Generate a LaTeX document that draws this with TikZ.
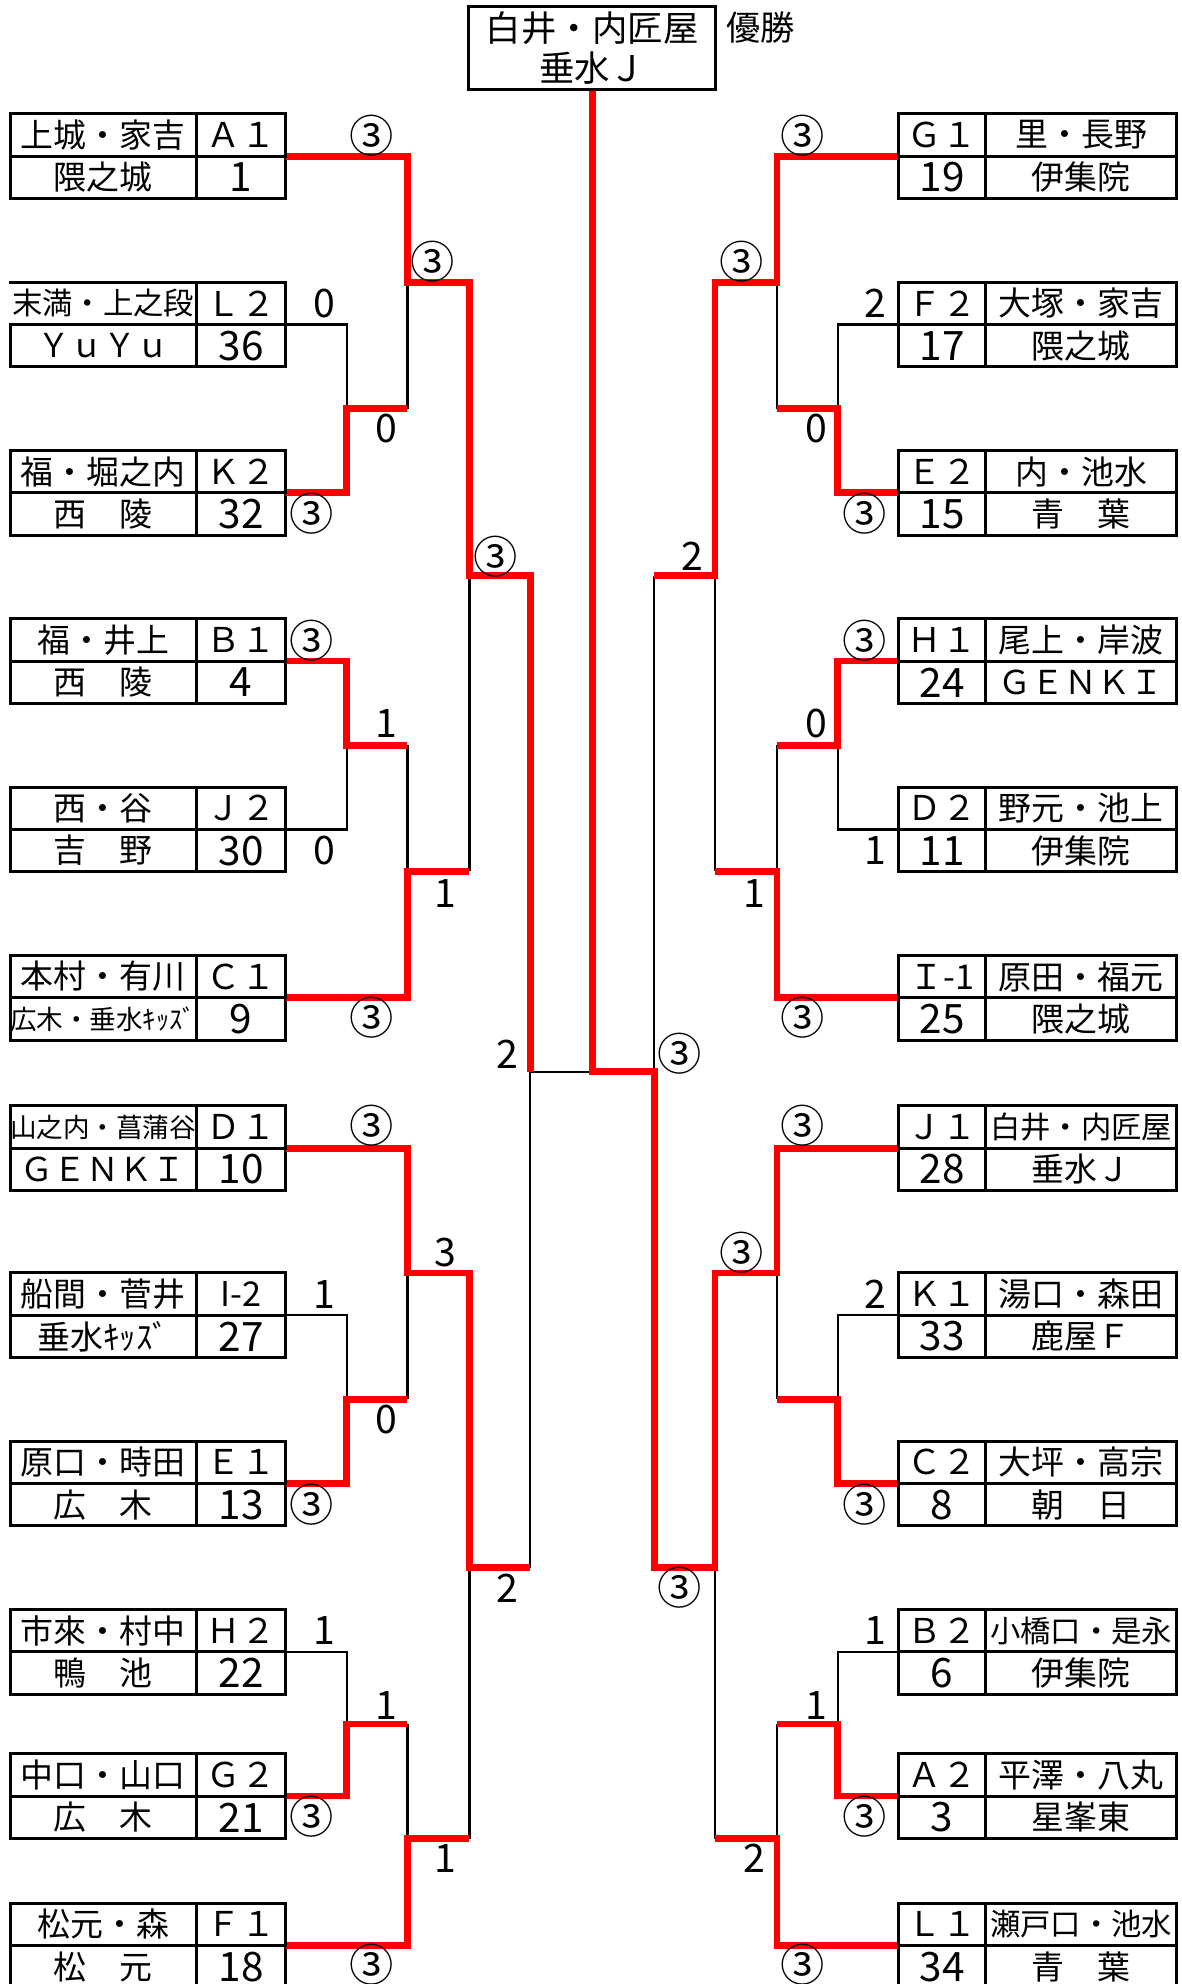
\documentclass[tikz,border=0pt]{standalone}
\usepackage{fontspec}
\setmainfont{Noto Sans CJK JP}
\newcommand\fsz[1]{\fontsize{#1pt}{#1pt}\selectfont}
\definecolor{winred}{RGB}{255,0,0}
\newcommand\teamL[6]{%
  \node[nameL] (#1n) at (81.5,#2+16.75) {#3};
  \node[codeL] (#1) at (190.5,#2+16.75) {#4};
  \node[nameL] (#1m) at (81.5,#2+50.25) {#5};
  \node[numL] (#1k) at (190.5,#2+50.25) {#6};}
\newcommand\teamR[6]{%
  \node[codeR] (#1) at (744.5,#2+16.75) {#3};
  \node[nameR] (#1n) at (854.5,#2+16.75) {#4};
  \node[numR] (#1k) at (744.5,#2+50.25) {#5};
  \node[nameR] (#1m) at (854.5,#2+50.25) {#6};}
\begin{document}
\begin{tikzpicture}[x=1pt,y=-1pt,
  cellbox/.style={draw, line width=2.4pt, inner sep=0pt, outer sep=0pt, minimum height=33.5pt, font=\fsz{26}},
  nameL/.style={cellbox, minimum width=147pt},
  codeL/.style={cellbox, minimum width=71pt, font=\fsz{27}},
  nameR/.style={cellbox, minimum width=151pt},
  codeR/.style={cellbox, minimum width=69pt, font=\fsz{27}},
  numL/.style={codeL, font=\fsz{32}},
  numR/.style={codeR, font=\fsz{32}},
  win/.style={draw=winred, line width=5.3pt, line join=miter},
  lose/.style={draw=black, line width=1.8pt},
  circ/.style={inner sep=0pt, font=\fsz{35}},
  dig/.style={inner sep=0pt, font=\fsz{31}},
]
\useasboundingbox (0,0) rectangle (934,1568);
\clip (0,0) rectangle (934,1568);
\fill[white] (0,0) rectangle (934,1568);

% junction coordinates
\coordinate (LA) at (274,323);
\coordinate (LB) at (322,223);
\coordinate (LC) at (274,589);
\coordinate (LD) at (322,688.5);
\coordinate (LE) at (371,455);
\coordinate (LF) at (274,1106);
\coordinate (LG) at (322,1006);
\coordinate (LH) at (274,1362.5);
\coordinate (LI) at (322,1453);
\coordinate (LJ) at (371,1239);
\coordinate (LK) at (419,847);
\coordinate (C)  at (468,847);
\coordinate (RA) at (662,323);
\coordinate (RB) at (614,223);
\coordinate (RC) at (662,589);
\coordinate (RD) at (614,688.5);
\coordinate (RE) at (565,455);
\coordinate (RF) at (662,1106);
\coordinate (RG) at (614,1006);
\coordinate (RH) at (662,1362.5);
\coordinate (RI) at (614,1453);
\coordinate (RJ) at (565,1239);
\coordinate (RK) at (517,847);

% team boxes
\teamL{A1}{90}{上城・家吉}{Ａ１}{隈之城}{1}
\teamL{L2}{223}{{\fsz{24}末満・上之段}}{Ｌ２}{ＹｕＹｕ}{36}
\teamL{K2}{356}{福・堀之内}{Ｋ２}{西　陵}{32}
\teamL{B1}{489}{福・井上}{Ｂ１}{西　陵}{4}
\teamL{J2}{622}{西・谷}{Ｊ２}{吉　野}{30}
\teamL{C1}{755}{本村・有川}{Ｃ１}{{\fsz{21}広木・垂水ｷｯｽﾞ}}{9}
\teamL{D1}{874}{{\fsz{21}山之内・菖蒲谷}}{Ｄ１}{ＧＥＮＫＩ}{10}
\teamL{I2}{1006}{船間・菅井}{I-2}{垂水ｷｯｽﾞ}{27}
\teamL{E1}{1139}{原口・時田}{Ｅ１}{広　木}{13}
\teamL{H2}{1272}{市來・村中}{Ｈ２}{鴨　池}{22}
\teamL{G2}{1386}{中口・山口}{Ｇ２}{広　木}{21}
\teamL{F1}{1504}{松元・森}{Ｆ１}{松　元}{18}

\teamR{G1}{90}{Ｇ１}{里・長野}{19}{伊集院}
\teamR{F2}{223}{Ｆ２}{大塚・家吉}{17}{隈之城}
\teamR{E2}{356}{Ｅ２}{内・池水}{15}{青　葉}
\teamR{H1}{489}{Ｈ１}{尾上・岸波}{24}{ＧＥＮＫＩ}
\teamR{D2}{622}{Ｄ２}{野元・池上}{11}{伊集院}
\teamR{I1}{755}{Ｉ-1}{原田・福元}{25}{隈之城}
\teamR{J1}{874}{Ｊ１}{{\fsz{24}白井・内匠屋}}{28}{垂水Ｊ}
\teamR{K1}{1006}{Ｋ１}{湯口・森田}{33}{鹿屋Ｆ}
\teamR{C2}{1139}{Ｃ２}{大坪・高宗}{8}{朝　日}
\teamR{B2}{1272}{Ｂ２}{{\fsz{24}小橋口・是永}}{6}{伊集院}
\teamR{A2}{1386}{Ａ２}{平澤・八丸}{3}{星峯東}
\teamR{L1}{1504}{Ｌ１}{{\fsz{24}瀬戸口・池水}}{34}{青　葉}

% champion
\node[draw, line width=2.4pt, minimum width=195pt, minimum height=65.6pt, inner sep=0pt, outer sep=0pt, align=center, font={\fontsize{28pt}{32pt}\selectfont}] (champ) at (468,37.8) {白井・内匠屋\\垂水Ｊ};
\node[inner sep=0pt, font=\fsz{27}] (yusho) at (601,22) {優勝};

% losing (black) lines
\draw[lose] (L2.south east) -| (LA);
\draw[lose] (LB) -- (LB |- LA);
\draw[lose] (LE) -- (LE |- LD);
\draw[lose] (J2.south east) -| (LC);
\draw[lose] (LD) -- (LD |- LC);
\draw[lose] (LK) -- (LK |- LJ);
\draw[lose] (LK) -- (C);
\draw[lose] (LG) -- (LG |- LF);
\draw[lose] (I2.south east) -| (LF);
\draw[lose] (LJ) -- (LJ |- LI);
\draw[lose] (H2.south east) -| (LH);
\draw[lose] (LI) -- (LI |- LH);
\draw[lose] (F2.south west) -| (RA);
\draw[lose] (RB) -- (RB |- RA);
\draw[lose] (RE) -- (RE |- RD);
\draw[lose] (D2.south west) -| (RC);
\draw[lose] (RD) -- (RD |- RC);
\draw[lose] (RK) -- (RK |- RE);
\draw[lose] (RG) -- (RG |- RF);
\draw[lose] (K1.south west) -| (RF);
\draw[lose] (RJ) -- (RJ |- RI);
\draw[lose] (B2.south west) -| (RH);
\draw[lose] (RI) -- (RI |- RH);

% winning (red) lines
\draw[win] (A1.south east) -| (LB) -| (LE) -| (LK);
\draw[win] (K2.south east) -| (LA) -- (LA -| LB);
\draw[win] (B1.south east) -| (LC) -- (LC -| LD);
\draw[win] (C1.south east) -| (LD) -- (LD -| LE);
\draw[win] (D1.south east) -| (LG) -| (LJ) -- (LJ -| LK);
\draw[win] (E1.south east) -| (LF) -- (LF -| LG);
\draw[win] (G2.south east) -| (LH) -- (LH -| LI);
\draw[win] (F1.south east) -| (LI) -- (LI -| LJ);
\draw[win] (champ.south) -- (C) -- (RK) |- (RJ) |- (RG) |- (J1.south west);
\draw[win] (G1.south west) -| (RB) -| (RE) -- (RE -| RK);
\draw[win] (E2.south west) -| (RA) -- (RA -| RB);
\draw[win] (H1.south west) -| (RC) -- (RC -| RD);
\draw[win] (I1.south west) -| (RD) -- (RD -| RE);
\draw[win] (C2.south west) -| (RF) -- (RF -| RG);
\draw[win] (A2.south west) -| (RH) -- (RH -| RI);
\draw[win] (L1.south west) -| (RI) -- (RI -| RJ);

% redraw box borders on top
\foreach \t in {A1,L2,K2,B1,J2,C1,D1,I2,E1,H2,G2,F1,G1,F2,E2,H1,D2,I1,J1,K1,C2,B2,A2,L1}{
  \draw[line width=2.4pt] (\t.north west) rectangle (\t.south east);
}
\draw[line width=2.4pt] (champ.north west) rectangle (champ.south east);
\draw[white, line width=3pt, shorten <=1.4pt, shorten >=1.4pt] (L2n.north west) -- (L2n.south west);

% scores left
\node[circ] (s1) at (294,107) {③};
\node[circ] (s2) at (342,207) {③};
\node[dig] (s3) at (256,240) {0};
\node[dig] (s4) at (305,339) {0};
\node[circ] (s5) at (246,406) {③};
\node[circ] (s6) at (392,440) {③};
\node[circ] (s7) at (246,506) {③};
\node[dig] (s8) at (305,572) {1};
\node[dig] (s9) at (256,672) {0};
\node[dig] (s10) at (352,706) {1};
\node[circ] (s11) at (294,804) {③};
\node[dig] (s12) at (401,833) {2};
\node[circ] (s13) at (294,890) {③};
\node[dig] (s14) at (352,990) {3};
\node[dig] (s15) at (256,1023) {1};
\node[dig] (s16) at (305,1122) {0};
\node[circ] (s17) at (246,1189) {③};
\node[dig] (s18) at (401,1255) {2};
\node[dig] (s19) at (256,1289) {1};
\node[dig] (s20) at (305,1348) {1};
\node[circ] (s21) at (246,1436) {③};
\node[dig] (s22) at (352,1469) {1};
\node[circ] (s23) at (294,1553) {③};
% scores right
\node[circ] (s24) at (634,107) {③};
\node[circ] (s25) at (586,207) {③};
\node[dig] (s26) at (692,240) {2};
\node[dig] (s27) at (645,339) {0};
\node[circ] (s28) at (683,406) {③};
\node[dig] (s29) at (547,440) {2};
\node[circ] (s30) at (683,506) {③};
\node[dig] (s31) at (645,572) {0};
\node[dig] (s32) at (692,672) {1};
\node[dig] (s33) at (596,706) {1};
\node[circ] (s34) at (634,804) {③};
\node[circ] (s35) at (537,833) {③};
\node[circ] (s36) at (634,890) {③};
\node[circ] (s37) at (586,990) {③};
\node[dig] (s38) at (692,1023) {2};
\node[circ] (s39) at (683,1189) {③};
\node[circ] (s40) at (537,1255) {③};
\node[dig] (s41) at (692,1289) {1};
\node[dig] (s42) at (645,1348) {1};
\node[circ] (s43) at (683,1436) {③};
\node[dig] (s44) at (596,1469) {2};
\node[circ] (s45) at (634,1553) {③};
\end{tikzpicture}
\end{document}
